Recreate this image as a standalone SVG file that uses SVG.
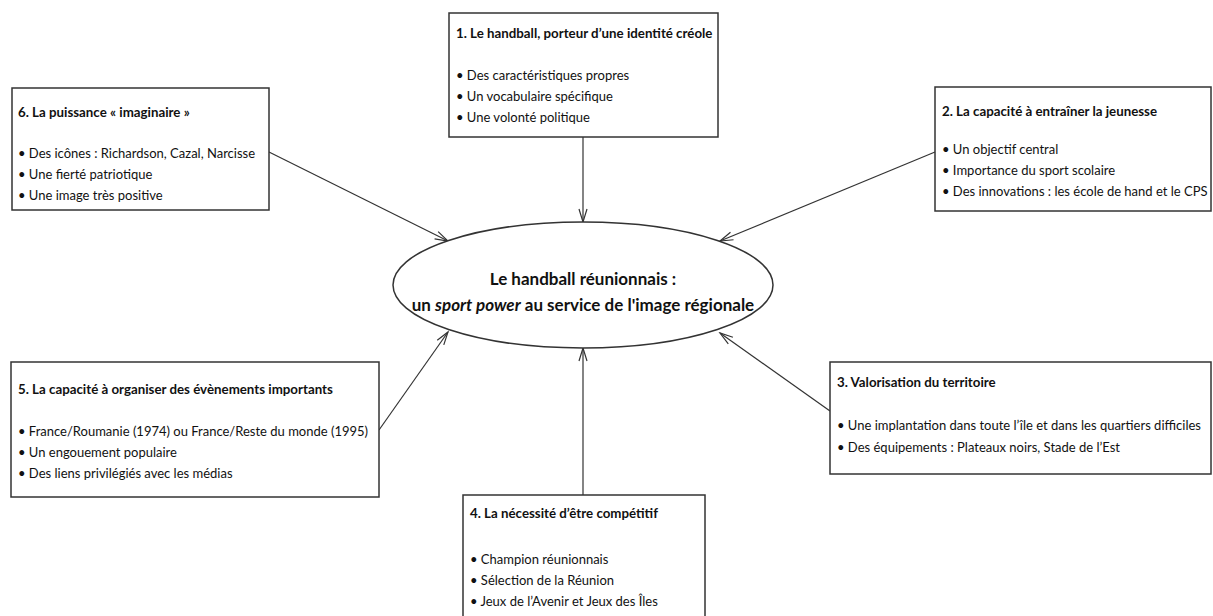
<svg xmlns="http://www.w3.org/2000/svg" width="1213" height="616" viewBox="0 0 1213 616">
<style>
.box{fill:#fff;stroke:#333;stroke-width:1.5}
.t{font-family:Lato,"Open Sans","Liberation Sans",sans-serif;font-size:13px;fill:#111}
.b{font-weight:bold;font-size:13.3px}
.c{font-family:Lato,"Open Sans","Liberation Sans",sans-serif;font-size:17px;font-weight:bold;fill:#111;text-anchor:middle}
.con{stroke:#333;stroke-width:1.2;fill:none;marker-end:url(#arr)}
</style>
<defs>
<marker id="arr" markerUnits="userSpaceOnUse" markerWidth="16" markerHeight="12" viewBox="-14 -6 16 12" refX="0" refY="0" orient="auto">
<path d="M-13,-4 L0,0 L-13,4" fill="none" stroke="#333" stroke-width="1.2"/>
</marker>
</defs>
<rect width="1213" height="616" fill="#fff"/>
<g id="connectors">
<line class="con" x1="583" y1="137" x2="583" y2="222"/>
<line class="con" x1="269" y1="152" x2="448" y2="241"/>
<line class="con" x1="935" y1="152" x2="720" y2="241"/>
<line class="con" x1="379" y1="430" x2="448" y2="332"/>
<line class="con" x1="830" y1="411" x2="720" y2="333"/>
<line class="con" x1="583" y1="495" x2="583" y2="348"/>
</g>
<g id="center">
<ellipse cx="583" cy="285" rx="190" ry="63" fill="#fff" stroke="#333" stroke-width="1.5"/>
<text class="c" x="583" y="285">Le handball réunionnais :</text>
<text class="c" x="583" y="311">un <tspan font-style="italic">sport power</tspan> au service de l'image régionale</text>
</g>
<g id="node1">
<rect class="box" x="449" y="13" width="269" height="124"/>
<text class="t b" x="456" y="38">1. Le handball, porteur d’une identité créole</text>
<text class="t" x="456" y="80">• Des caractéristiques propres</text>
<text class="t" x="456" y="101">• Un vocabulaire spécifique</text>
<text class="t" x="456" y="122">• Une volonté politique</text>
</g>
<g id="node2">
<rect class="box" x="935" y="87" width="276" height="124"/>
<text class="t b" x="942" y="116">2. La capacité à entraîner la jeunesse</text>
<text class="t" x="942" y="154">• Un objectif central</text>
<text class="t" x="942" y="175">• Importance du sport scolaire</text>
<text class="t" x="942" y="196">• Des innovations : les école de hand et le CPS</text>
</g>
<g id="node3">
<rect class="box" x="830" y="362" width="381" height="112"/>
<text class="t b" x="837" y="387">3. Valorisation du territoire</text>
<text class="t" x="837" y="430">• Une implantation dans toute l’île et dans les quartiers difficiles</text>
<text class="t" x="837" y="452">• Des équipements : Plateaux noirs, Stade de l’Est</text>
</g>
<g id="node4">
<rect class="box" x="463" y="495" width="242" height="130"/>
<text class="t b" x="470" y="518">4. La nécessité d’être compétitif</text>
<text class="t" x="470" y="564">• Champion réunionnais</text>
<text class="t" x="470" y="585">• Sélection de la Réunion</text>
<text class="t" x="470" y="606">• Jeux de l’Avenir et Jeux des Îles</text>
</g>
<g id="node5">
<rect class="box" x="11" y="362" width="368" height="135"/>
<text class="t b" x="18" y="394">5. La capacité à organiser des évènements importants</text>
<text class="t" x="18" y="436">• France/Roumanie (1974) ou France/Reste du monde (1995)</text>
<text class="t" x="18" y="457">• Un engouement populaire</text>
<text class="t" x="18" y="478">• Des liens privilégiés avec les médias</text>
</g>
<g id="node6">
<rect class="box" x="12" y="88" width="257" height="122"/>
<text class="t b" x="18" y="117">6. La puissance « imaginaire »</text>
<text class="t" x="18" y="158">• Des icônes : Richardson, Cazal, Narcisse</text>
<text class="t" x="18" y="179">• Une fierté patriotique</text>
<text class="t" x="18" y="200">• Une image très positive</text>
</g>
</svg>
